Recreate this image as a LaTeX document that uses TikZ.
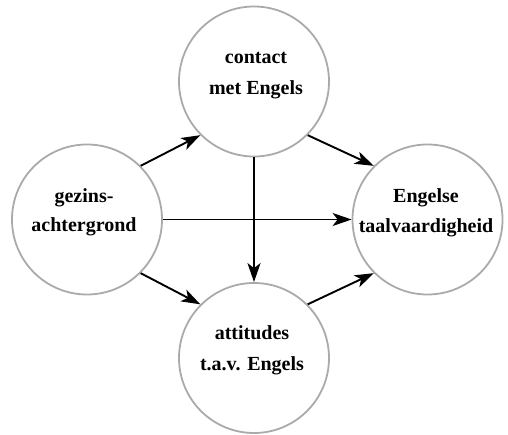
\documentclass[tikz,border=0pt]{standalone}
\usepackage{fontspec}
\setmainfont{Liberation Serif}
\usetikzlibrary{arrows.meta}
\definecolor{ringgray}{RGB}{170,170,170}
\tikzset{
  ring/.style={circle, draw=ringgray, line width=1.8pt, minimum size=150pt, inner sep=0pt},
  lbl/.style={anchor=base, inner sep=0pt, font=\fontsize{20}{24}\selectfont\bfseries},
  conn/.style={line width=1.9pt, -{Stealth[length=19pt, width=13pt, inset=5pt]}}
}
\begin{document}
\begin{tikzpicture}[x=1pt, y=1pt]
\useasboundingbox (0,0) rectangle (508,434);
\node[ring] (L) at (87,214.5) {};
\node[ring] (T) at (254,352.5) {};
\node[ring] (R) at (427.5,214.5) {};
\node[ring] (B) at (254,76) {};
% labels
\node[lbl] (T1) at (256,370.5) {contact};
\node[lbl] (T2) at (256,339) {met Engels};
\node[lbl] (L1) at (84,231) {gezins-};
\node[lbl] (L2) at (84,202.5) {achtergrond};
\node[lbl] (R1) at (426,231) {Engelse};
\node[lbl] (R2) at (426,201.5) {taalvaardigheid};
\node[lbl] (B1) at (252,94.5) {attitudes};
\node[lbl] (B2) at (252,64) {t.a.v. Engels};
% connectors
\draw[conn] (L.45) -- (T.225);
\draw[conn] (T.-45) -- (R.135);
\draw[conn] (L.-45) -- (B.135);
\draw[conn] (B.45) -- (R.-135);
\draw[conn] (L.east) -- (R.west);
\draw[conn] (T.south) -- (B.north);
\end{tikzpicture}
\end{document}
